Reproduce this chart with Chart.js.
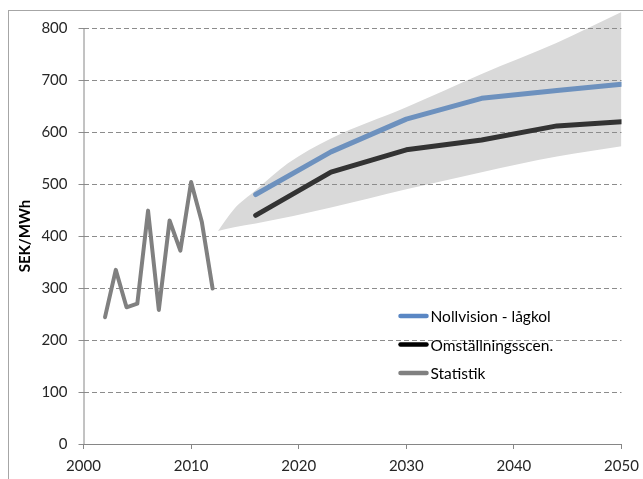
<!DOCTYPE html>
<html>
<head>
<meta charset="utf-8">
<script src="https://cdn.jsdelivr.net/npm/chart.js@4/dist/chart.umd.min.js"></script>
<style>
  html, body { margin: 0; padding: 0; background: #fff; overflow: hidden; }
  #frame {
    position: absolute; left: 8px; top: 10px; width: 700px; height: 520px;
    border-left: 1px solid #a6a6a6; border-top: 1px solid #a6a6a6;
  }
  #wrap { position: absolute; left: 0; top: 0; width: 643px; height: 479px; }
</style>
</head>
<body>
<div id="frame"></div>
<div id="wrap"><canvas id="priceChart" width="643" height="479"></canvas></div>
<script>
// Historical prices
const statYears = [2002, 2003, 2004, 2005, 2006, 2007, 2008, 2009, 2010, 2011, 2012];
const statPrices = [244, 335, 263, 270, 449, 258, 430, 372, 504, 427, 299];

// Scenario projections
const scenarioYears = [2016, 2023, 2030, 2037, 2044, 2050];
const nollvisionPrices = [480, 562, 625, 665, 680, 692];
const omstallningPrices = [440, 523, 566, 585, 612, 620];

// Uncertainty band (upper / lower edge)
const bandUpperYears = [2012.5, 2014, 2016, 2019, 2023, 2030, 2037, 2044, 2050];
const bandUpper = [410, 452, 488, 540, 588, 648, 712, 772, 831];
const bandLowerYears = [2012.5, 2014, 2016, 2023, 2030, 2037, 2044, 2050];
const bandLower = [410, 417, 424, 455, 490, 523, 553, 573];

const yearTicks = [2000, 2010, 2020, 2030, 2040, 2050];
const priceTicks = [0, 100, 200, 300, 400, 500, 600, 700, 800];
const yTitle = 'SEK/MWh';

const toPoints = (xs, ys) => xs.map((x, i) => ({ x, y: ys[i] }));

Chart.defaults.font.family = 'Lato, "Open Sans", sans-serif';
Chart.defaults.color = '#262626';

// y axis line and title span 0..800 only; legend sits inside the plot
const axisAndLegend = {
  id: 'axisAndLegend',
  beforeDatasetsDraw(chart) {
    const { ctx, scales: { y }, chartArea } = chart;
    const yBottom = y.getPixelForValue(0);
    const yTop = y.getPixelForValue(priceTicks[priceTicks.length - 1]);
    ctx.save();
    ctx.strokeStyle = '#868686';
    ctx.lineWidth = 1;
    ctx.beginPath();
    ctx.moveTo(chartArea.left + 0.5, yBottom);
    ctx.lineTo(chartArea.left + 0.5, yTop);
    ctx.stroke();

    ctx.translate(y.left + 15, (yBottom + yTop) / 2);
    ctx.rotate(-Math.PI / 2);
    ctx.font = 'bold 15px Lato, "Open Sans", sans-serif';
    ctx.fillStyle = '#000';
    ctx.textAlign = 'center';
    ctx.textBaseline = 'middle';
    ctx.fillText(yTitle, 0, 0);
    ctx.restore();
  },
  afterDraw(chart) {
    const { ctx, chartArea } = chart;
    const items = chart.data.datasets.filter(d => d.legendColor);
    const x0 = chartArea.left + 315;
    let yy = chartArea.top + 306;
    ctx.save();
    ctx.font = '15.5px Lato, "Open Sans", sans-serif';
    ctx.textBaseline = 'middle';
    items.forEach(d => {
      ctx.strokeStyle = d.legendColor;
      ctx.lineWidth = 4.5;
      ctx.lineCap = 'round';
      ctx.beginPath();
      ctx.moveTo(x0 + 2, yy);
      ctx.lineTo(x0 + 28, yy);
      ctx.stroke();
      ctx.fillStyle = '#000';
      ctx.fillText(d.label, x0 + 32, yy + 1);
      yy += 28.5;
    });
    ctx.restore();
  }
};

new Chart(document.getElementById('priceChart'), {
  type: 'line',
  data: {
    datasets: [
      {
        label: 'Nollvision - lågkol',
        data: toPoints(scenarioYears, nollvisionPrices),
        borderColor: '#6d91be',
        legendColor: '#5a87c4',
        borderWidth: 5,
        order: 1
      },
      {
        label: 'Omställningsscen.',
        data: toPoints(scenarioYears, omstallningPrices),
        borderColor: '#333333',
        legendColor: '#000000',
        borderWidth: 5,
        order: 2
      },
      {
        label: 'Statistik',
        data: toPoints(statYears, statPrices),
        borderColor: '#808080',
        legendColor: '#808080',
        borderWidth: 4,
        order: 3
      },
      {
        label: 'band-lower',
        data: toPoints(bandLowerYears, bandLower),
        borderWidth: 0,
        borderColor: 'rgba(0,0,0,0)',
        cubicInterpolationMode: 'monotone',
        fill: false,
        order: 5
      },
      {
        label: 'band-upper',
        data: toPoints(bandUpperYears, bandUpper),
        borderWidth: 0,
        borderColor: 'rgba(0,0,0,0)',
        backgroundColor: '#d9d9d9',
        cubicInterpolationMode: 'monotone',
        fill: 3,
        order: 4
      }
    ]
  },
  options: {
    responsive: false,
    animation: false,
    events: [],
    layout: { padding: { left: 10, right: 21.5, top: 10, bottom: 5 } },
    elements: {
      point: { radius: 0 },
      line: { borderCapStyle: 'round', borderJoinStyle: 'round', tension: 0 }
    },
    plugins: {
      legend: { display: false },
      tooltip: { enabled: false },
      filler: { drawTime: 'beforeDraw' }
    },
    scales: {
      x: {
        type: 'linear',
        min: 2000,
        max: 2050,
        afterBuildTicks: s => { s.ticks = yearTicks.map(v => ({ value: v })); },
        afterFit: s => { s.height = 30; s.paddingLeft = 0; s.paddingRight = 0; },
        ticks: { font: { size: 15 }, padding: 8, callback: v => String(v) },
        grid: { drawOnChartArea: false, color: '#868686', tickLength: 5 },
        border: { color: '#868686' }
      },
      y: {
        min: 0,
        max: 835,
        afterBuildTicks: s => { s.ticks = priceTicks.map(v => ({ value: v })); },
        afterFit: s => { s.width = 73.5; s.paddingTop = 0; s.paddingBottom = 0; },
        ticks: { font: { size: 15 }, padding: 11 },
        grid: { color: '#8c8c8c', tickLength: 5 },
        border: { display: false, dash: [5, 3] }
      }
    }
  },
  plugins: [axisAndLegend]
});
</script>
</body>
</html>
